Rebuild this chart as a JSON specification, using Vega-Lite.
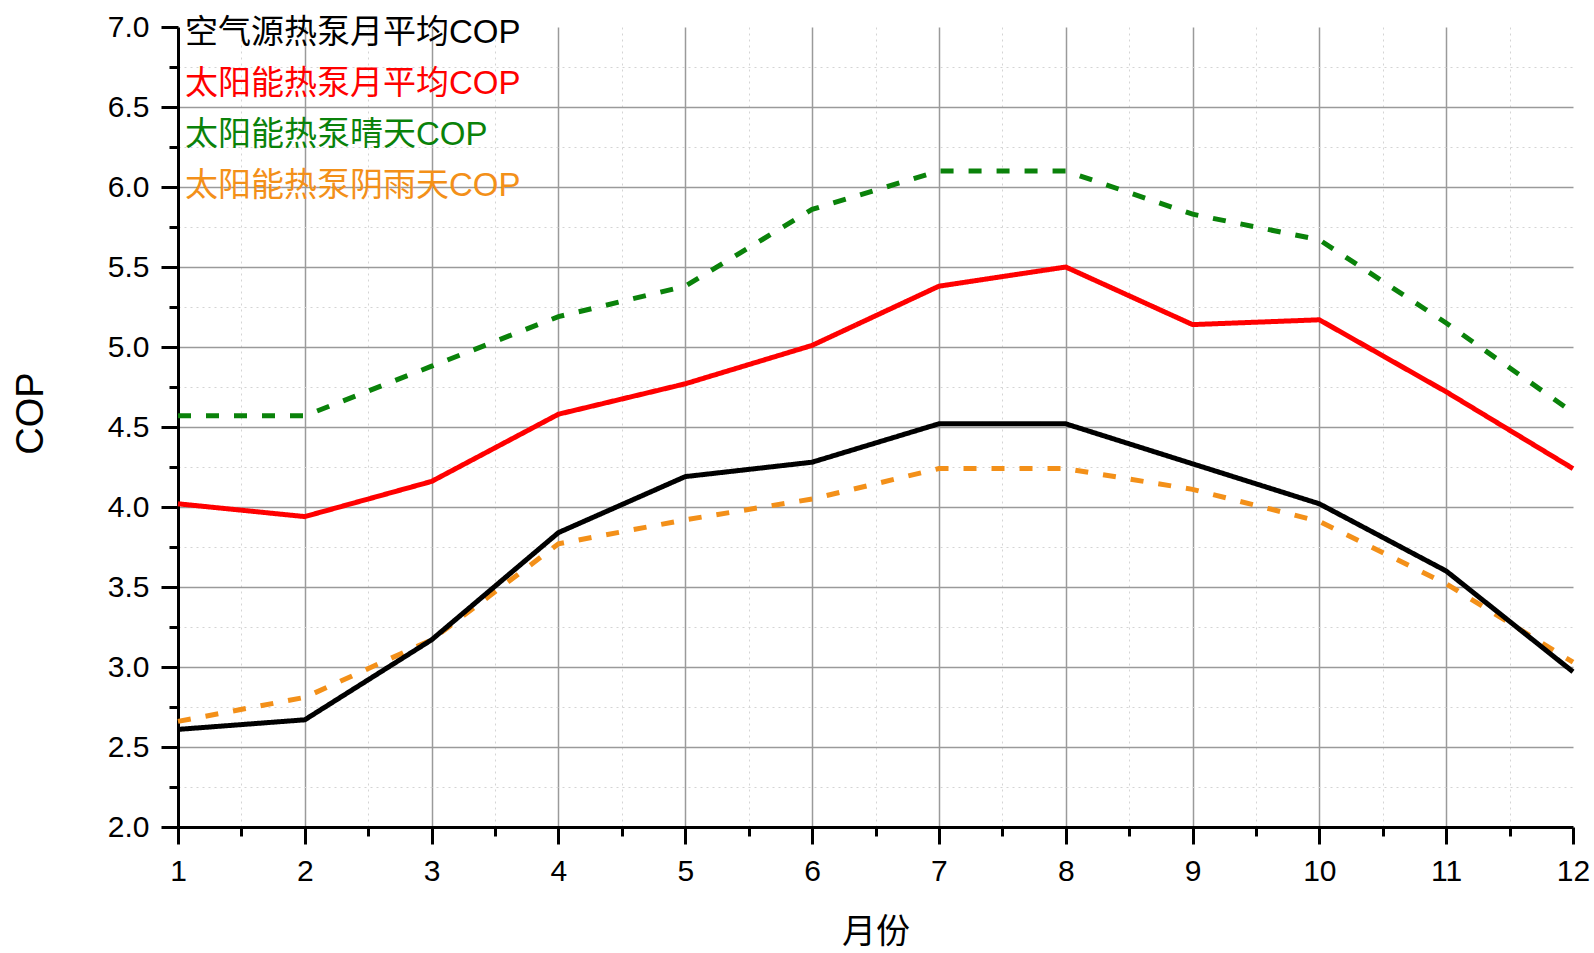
{
  "$schema": "https://vega.github.io/schema/vega-lite/v6.json",
  "width": 1395,
  "height": 800,
  "autosize": "none",
  "padding": {"left": 178, "top": 27, "right": 21, "bottom": 126},
  "background": "white",
  "config": {
    "view": {"stroke": null},
    "font": "Liberation Sans, Noto Sans CJK SC",
    "axis": {"labelFont": "Liberation Sans", "titleFont": "Liberation Sans, Noto Sans CJK SC"}
  },
  "data": {
    "values": [
      {"month": 1, "series": "太阳能热泵阴雨天COP", "cop": 2.66},
      {"month": 2, "series": "太阳能热泵阴雨天COP", "cop": 2.81},
      {"month": 3, "series": "太阳能热泵阴雨天COP", "cop": 3.17},
      {"month": 4, "series": "太阳能热泵阴雨天COP", "cop": 3.77},
      {"month": 5, "series": "太阳能热泵阴雨天COP", "cop": 3.92},
      {"month": 6, "series": "太阳能热泵阴雨天COP", "cop": 4.05},
      {"month": 7, "series": "太阳能热泵阴雨天COP", "cop": 4.24},
      {"month": 8, "series": "太阳能热泵阴雨天COP", "cop": 4.24},
      {"month": 9, "series": "太阳能热泵阴雨天COP", "cop": 4.11},
      {"month": 10, "series": "太阳能热泵阴雨天COP", "cop": 3.91},
      {"month": 11, "series": "太阳能热泵阴雨天COP", "cop": 3.52},
      {"month": 12, "series": "太阳能热泵阴雨天COP", "cop": 3.03},
      {"month": 1, "series": "太阳能热泵晴天COP", "cop": 4.57},
      {"month": 2, "series": "太阳能热泵晴天COP", "cop": 4.57},
      {"month": 3, "series": "太阳能热泵晴天COP", "cop": 4.88},
      {"month": 4, "series": "太阳能热泵晴天COP", "cop": 5.19},
      {"month": 5, "series": "太阳能热泵晴天COP", "cop": 5.38},
      {"month": 6, "series": "太阳能热泵晴天COP", "cop": 5.86},
      {"month": 7, "series": "太阳能热泵晴天COP", "cop": 6.10},
      {"month": 8, "series": "太阳能热泵晴天COP", "cop": 6.10},
      {"month": 9, "series": "太阳能热泵晴天COP", "cop": 5.83},
      {"month": 10, "series": "太阳能热泵晴天COP", "cop": 5.67},
      {"month": 11, "series": "太阳能热泵晴天COP", "cop": 5.15},
      {"month": 12, "series": "太阳能热泵晴天COP", "cop": 4.59},
      {"month": 1, "series": "太阳能热泵月平均COP", "cop": 4.02},
      {"month": 2, "series": "太阳能热泵月平均COP", "cop": 3.94},
      {"month": 3, "series": "太阳能热泵月平均COP", "cop": 4.16},
      {"month": 4, "series": "太阳能热泵月平均COP", "cop": 4.58},
      {"month": 5, "series": "太阳能热泵月平均COP", "cop": 4.77},
      {"month": 6, "series": "太阳能热泵月平均COP", "cop": 5.01},
      {"month": 7, "series": "太阳能热泵月平均COP", "cop": 5.38},
      {"month": 8, "series": "太阳能热泵月平均COP", "cop": 5.50},
      {"month": 9, "series": "太阳能热泵月平均COP", "cop": 5.14},
      {"month": 10, "series": "太阳能热泵月平均COP", "cop": 5.17},
      {"month": 11, "series": "太阳能热泵月平均COP", "cop": 4.72},
      {"month": 12, "series": "太阳能热泵月平均COP", "cop": 4.24},
      {"month": 1, "series": "空气源热泵月平均COP", "cop": 2.61},
      {"month": 2, "series": "空气源热泵月平均COP", "cop": 2.67},
      {"month": 3, "series": "空气源热泵月平均COP", "cop": 3.17},
      {"month": 4, "series": "空气源热泵月平均COP", "cop": 3.84},
      {"month": 5, "series": "空气源热泵月平均COP", "cop": 4.19},
      {"month": 6, "series": "空气源热泵月平均COP", "cop": 4.28},
      {"month": 7, "series": "空气源热泵月平均COP", "cop": 4.52},
      {"month": 8, "series": "空气源热泵月平均COP", "cop": 4.52},
      {"month": 9, "series": "空气源热泵月平均COP", "cop": 4.27},
      {"month": 10, "series": "空气源热泵月平均COP", "cop": 4.02},
      {"month": 11, "series": "空气源热泵月平均COP", "cop": 3.60},
      {"month": 12, "series": "空气源热泵月平均COP", "cop": 2.97}
    ]
  },
  "resolve": {"axis": {"x": "independent", "y": "independent"}},
  "layer": [
    {
      "mark": {"type": "line", "opacity": 0},
      "encoding": {
        "x": {
          "field": "month", "type": "quantitative",
          "scale": {"domain": [1, 12], "nice": false, "zero": false},
          "axis": {
            "orient": "bottom", "values": [1.5, 2.5, 3.5, 4.5, 5.5, 6.5, 7.5, 8.5, 9.5, 10.5, 11.5],
            "labels": false, "domain": false, "title": null,
            "ticks": true, "tickSize": 9, "tickWidth": 3, "tickColor": "black",
            "grid": true, "gridColor": "#d4d4d4", "gridDash": [2, 4], "gridWidth": 1
          }
        },
        "y": {
          "field": "cop", "type": "quantitative",
          "scale": {"domain": [2, 7], "nice": false, "zero": false},
          "axis": {
            "orient": "left", "values": [2.25, 2.75, 3.25, 3.75, 4.25, 4.75, 5.25, 5.75, 6.25, 6.75],
            "labels": false, "domain": false, "title": null,
            "ticks": true, "tickSize": 9, "tickWidth": 3, "tickColor": "black",
            "grid": true, "gridColor": "#d4d4d4", "gridDash": [2, 4], "gridWidth": 1
          }
        },
        "detail": {"field": "series"}
      }
    },
    {
      "mark": {"type": "line"},
      "encoding": {
        "x": {
          "field": "month", "type": "quantitative",
          "scale": {"domain": [1, 12], "nice": false, "zero": false},
          "axis": {
            "orient": "bottom", "values": [1, 2, 3, 4, 5, 6, 7, 8, 9, 10, 11, 12],
            "format": "d", "labelFontSize": 30, "labelColor": "black", "labelPadding": 12, "labelFlush": false,
            "domain": true, "domainColor": "black", "domainWidth": 3,
            "ticks": true, "tickSize": 17, "tickWidth": 3, "tickColor": "black",
            "grid": true, "gridColor": "#9a9a9a", "gridWidth": 1.5,
            "gridOpacity": {"condition": {"test": "datum.value == 12 || datum.value == 1", "value": 0}, "value": 1},
            "title": "月份", "titleFontSize": 34, "titleFontWeight": "normal", "titleColor": "black",
            "titleY": 105, "titleBaseline": "middle"
          }
        },
        "y": {
          "field": "cop", "type": "quantitative",
          "scale": {"domain": [2, 7], "nice": false, "zero": false},
          "axis": {
            "orient": "left", "values": [2, 2.5, 3, 3.5, 4, 4.5, 5, 5.5, 6, 6.5, 7],
            "format": ".1f", "labelFontSize": 30, "labelColor": "black", "labelPadding": 12, "labelFlush": false,
            "domain": true, "domainColor": "black", "domainWidth": 3,
            "ticks": true, "tickSize": 17, "tickWidth": 3, "tickColor": "black",
            "grid": true, "gridColor": "#9a9a9a", "gridWidth": 1.5,
            "gridOpacity": {"condition": {"test": "datum.value == 7 || datum.value == 2", "value": 0}, "value": 1},
            "title": "COP", "titleFontSize": 38, "titleFontWeight": "normal", "titleColor": "black",
            "titleX": -147, "titleY": 386, "titleBaseline": "middle", "titleAngle": -90
          }
        },
        "color": {
          "field": "series", "type": "nominal",
          "scale": {
            "domain": ["空气源热泵月平均COP", "太阳能热泵月平均COP", "太阳能热泵晴天COP", "太阳能热泵阴雨天COP"],
            "range": ["#000000", "#ff0000", "#0a820a", "#f39019"]
          },
          "legend": {
            "orient": "none", "legendX": -26, "legendY": -11, "title": null,
            "symbolSize": 0, "symbolStrokeWidth": 0, "symbolOpacity": 0, "labelOffset": 0,
            "labelFontSize": 33, "labelFont": "Liberation Sans, Noto Sans CJK SC", "labelLimit": 0,
            "rowPadding": 17, "padding": 0, "labelBaseline": "middle",
            "encode": {"labels": {"update": {"fill": {"scale": "color", "field": "value"}}}}
          }
        },
        "strokeDash": {
          "field": "series", "type": "nominal",
          "scale": {
            "domain": ["空气源热泵月平均COP", "太阳能热泵月平均COP", "太阳能热泵晴天COP", "太阳能热泵阴雨天COP"],
            "range": [[1, 0], [1, 0], [13, 15], [13, 15]]
          },
          "legend": null
        },
        "strokeWidth": {
          "field": "series", "type": "nominal",
          "scale": {
            "domain": ["空气源热泵月平均COP", "太阳能热泵月平均COP", "太阳能热泵晴天COP", "太阳能热泵阴雨天COP"],
            "range": [5, 5, 3, 3]
          },
          "legend": null
        }
      }
    }
  ]
}
